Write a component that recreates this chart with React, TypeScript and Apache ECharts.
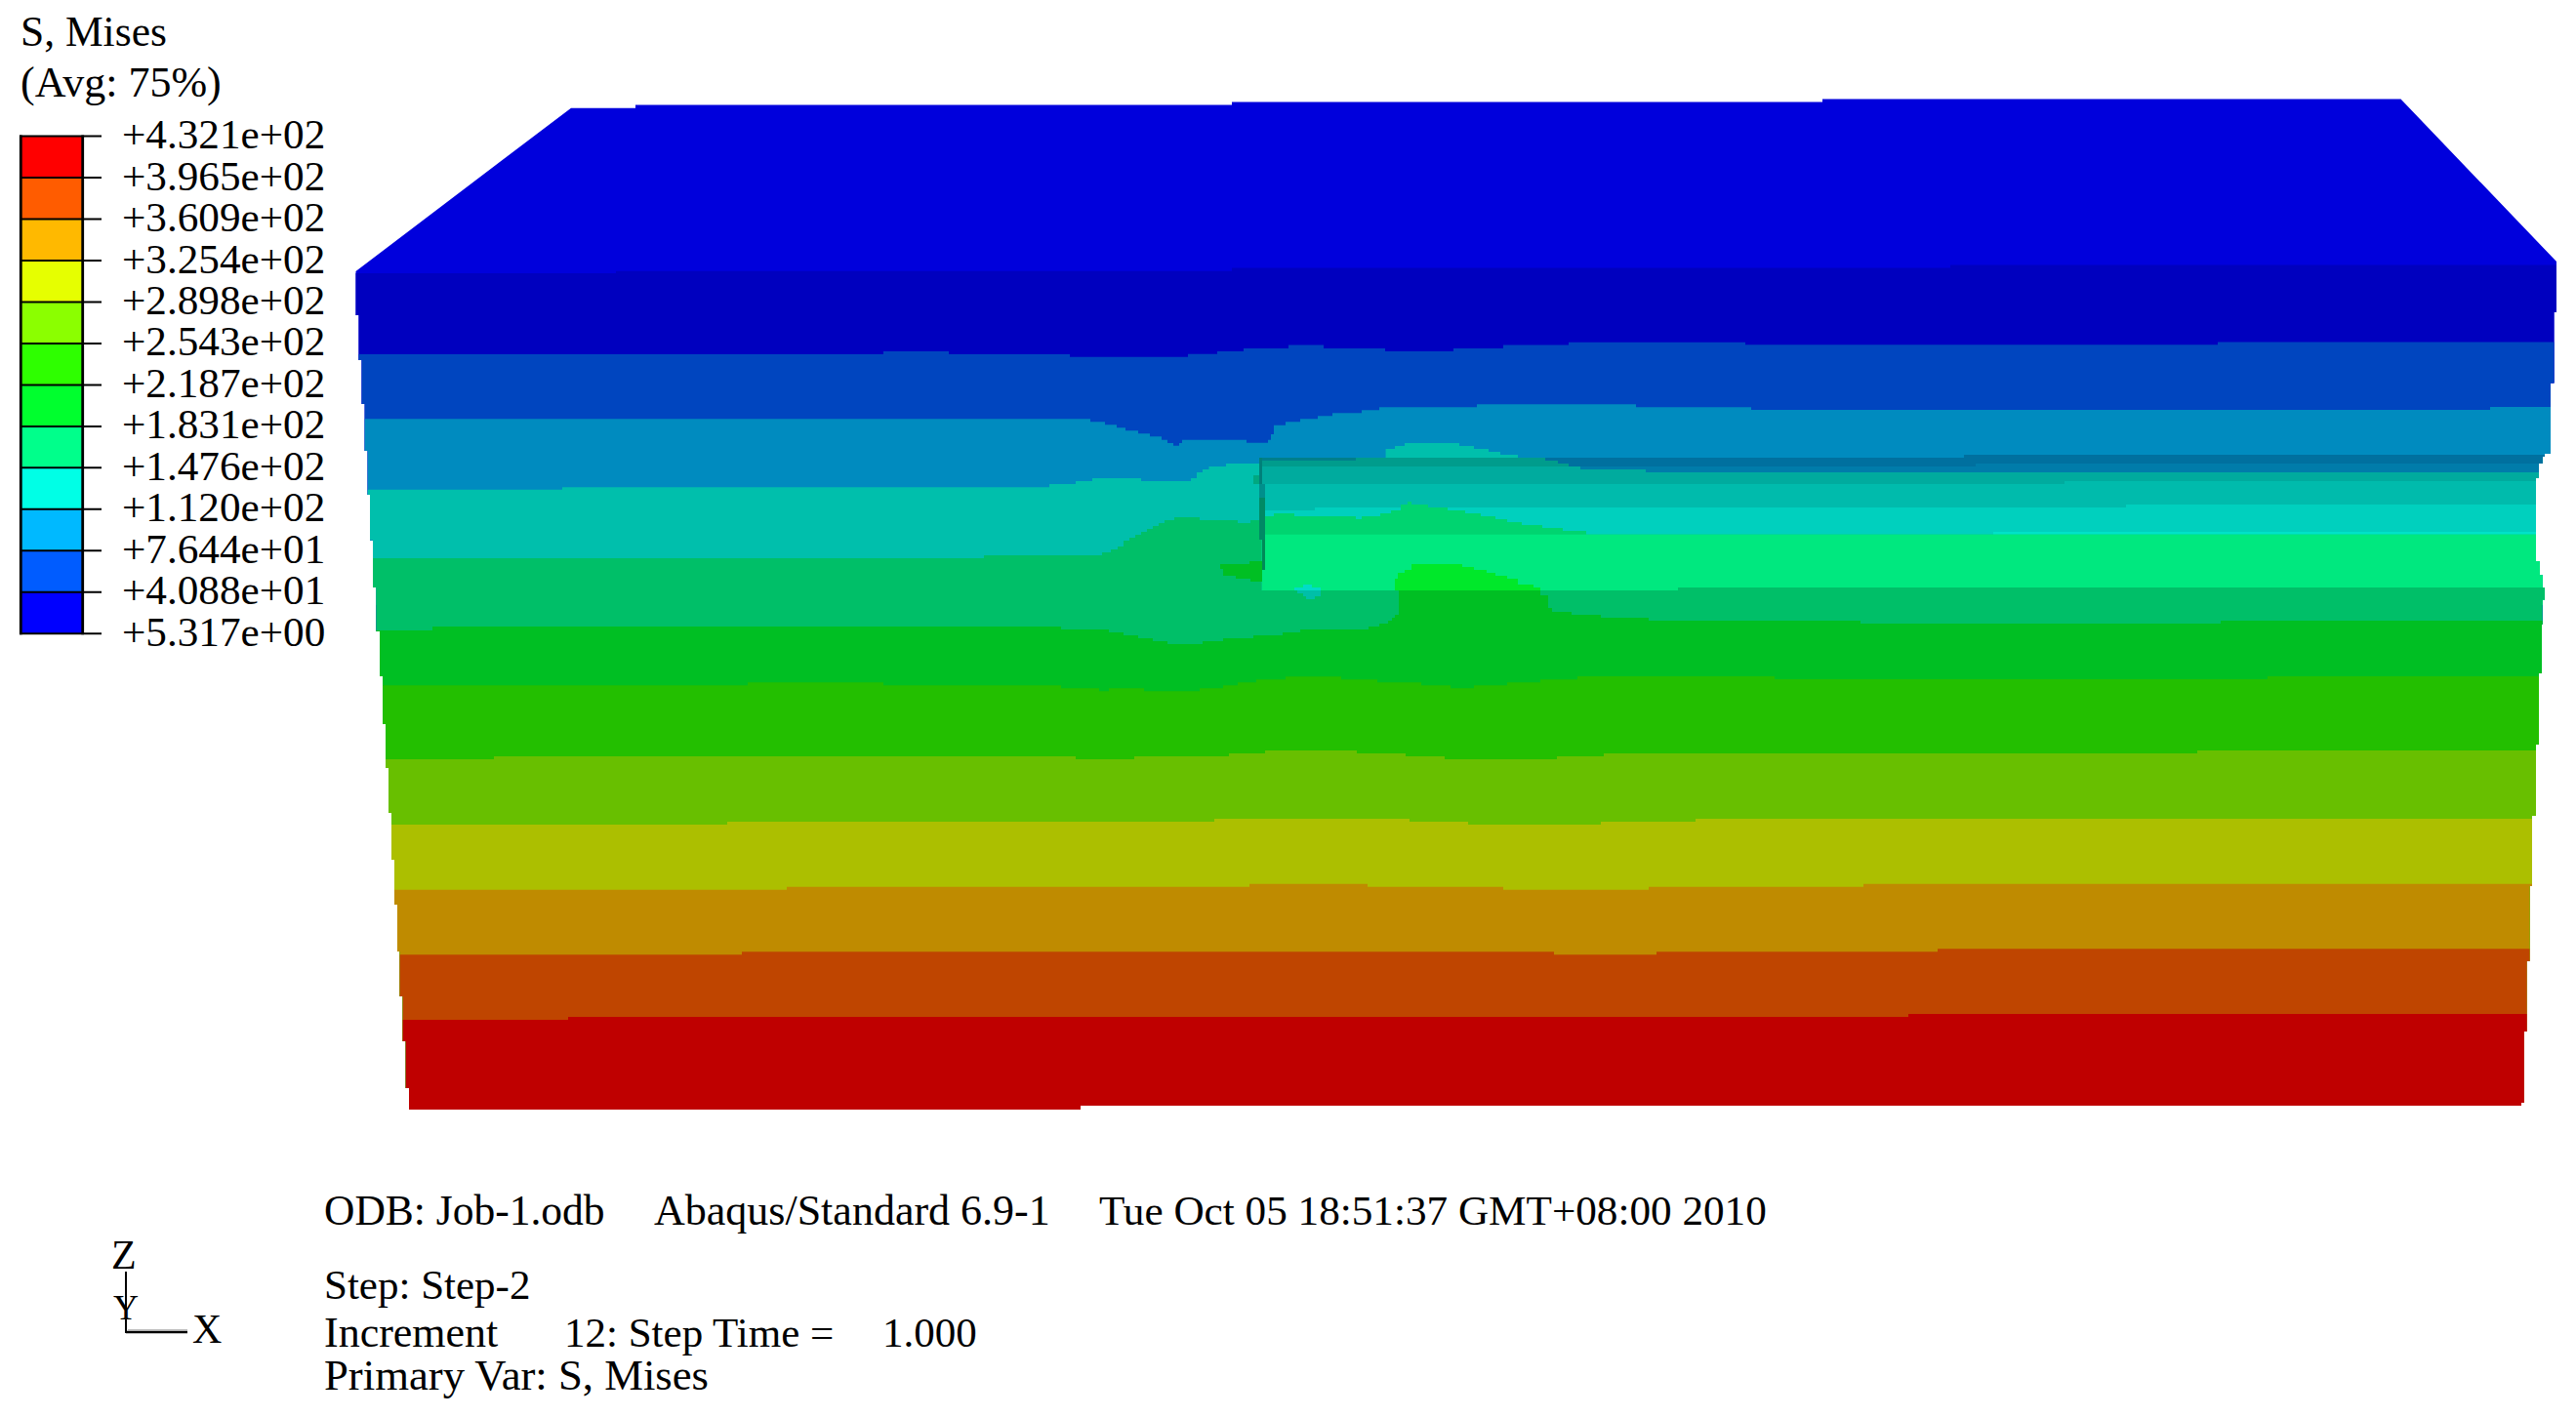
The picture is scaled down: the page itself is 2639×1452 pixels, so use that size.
import React, { useEffect, useRef } from "react";
import * as echarts from "echarts";

type P = [number, number];

const legendTicks = ["+4.321e+02","+3.965e+02","+3.609e+02","+3.254e+02","+2.898e+02","+2.543e+02","+2.187e+02","+1.831e+02","+1.476e+02","+1.120e+02","+7.644e+01","+4.088e+01","+5.317e+00"];
const legendColors = ["#FF0000","#FF5C00","#FFB900","#E6FF00","#8BFF00","#2EFF00","#00FF2E","#00FF8B","#00FFE6","#00B9FF","#005CFF","#0000FF"];

// Model silhouette: each step is [x, y at which that x begins]
const leftEdge: P[] = [[364.5,278],[367.5,323],[370.6,369],[373.7,414],[376.7,462],[379,507],[382,553.5],[385.4,602],[389,647],[392,693],[395,742],[398,787],[401,833],[404,881],[407,927],[409.6,975],[412.7,1021],[415.8,1067],[419,1115]];
const rightEdge: P[] = [[2619,268],[2616.5,320],[2613,392.6],[2607,465],[2604.6,468],[2601,475],[2598,490],[2602,575],[2604.6,589.6],[2607,602],[2604.6,614.5],[2604,640],[2601,690],[2598,763],[2594,836],[2591.5,908],[2588.6,985],[2585.7,1057],[2583,1130]];
const bottomEdge: P[] = [[2583,1133],[1107,1133],[1107,1137],[419,1137]];
const faceTop: P[] = [[364.5,278],[585,110.7],[651,110.7],[651,107.4],[1262,107.4],[1262,104.5],[1867,104.5],[1867,101.6],[2459.5,101.6],[2619,268]];

// Contour boundaries: [x, y held from that x onward]
const contour1: P[] = [[364,280],[631,277.8],[1262,274.5],[1998,271.6]];
const contour2: P[] = [[367,363],[905,360],[972,363],[1096,365.7],[1217,362.7],[1247,360],[1274,357],[1320,353.5],[1356,357],[1419,360],[1489,357],[1540,353.5],[1607,350.7],[1788,353.3],[2272,350.4]];
const contour3: P[] = [[373,429.3],[1117,432.3],[1132,435.3],[1144,438.3],[1153,441.3],[1166,444.3],[1178,447.3],[1190,450.7],[1196,454],[1202,456.7],[1208,454],[1211,450.7],[1277,453.7],[1299,450.7],[1302,445],[1305,435.7],[1317,432.3],[1332,429.3],[1350,426.3],[1365,423.3],[1395,420.3],[1413,417.3],[1513,414.3],[1676,417.3],[1794,420],[2551,417]];
const tealLeftTop: P[] = [[376,501.7],[576,499.2],[1075,496],[1102,493],[1119,490],[1169,493],[1220,490],[1226,484],[1232,481],[1238.5,478],[1256,475]];
const tealBump: P[] = [[1414,469],[1419.6,460],[1429,457],[1439,454],[1495,457],[1510,460],[1525,463],[1537,466],[1555,469]];
const panelSeamTop: P[] = [[1290,469]];
const panelDarkTop: P[] = [[1583,469],[2012,466]];
const panelBlueTop: P[] = [[1607,478],[2024,475]];
const panelTealDarkTop: P[] = [[1292,478],[1607,478],[1619,481],[1686,484]];
const panelTealTop: P[] = [[1292,496],[2115,493]];
const panelCyanTop: P[] = [[1296,523],[1347,520],[2178,517]];
const panelCyanBrightTop: P[] = [[2042,545]];
const panelMidGreenTop: P[] = [[1296,529],[1305,526],[1326,529],[1389,532],[1395,529],[1414,526],[1425,523],[1435,517],[1442,514],[1446,517],[1463,520],[1483,523],[1501,526],[1517,529],[1532,532],[1544,535],[1559,538],[1580,541],[1601,544],[1625,547.7]];
const panelBrightTop: P[] = [[1292.5,547.7]];
const contour5: P[] = [[382,572],[1008,569],[1129,566],[1138,563],[1145,560],[1151,554],[1157,551],[1163,548],[1169,545],[1175,542],[1181,539],[1187,536],[1193,533],[1203,530],[1229,533],[1268,536],[1281,533],[1292.5,605],[1719,602]];
const contour6: P[] = [[385,646],[443,642],[1087,645],[1136,648],[1151,651],[1166,654],[1181,657],[1196,660],[1232,657],[1253,654],[1284,651],[1314,648],[1332,645],[1402,642],[1413,639],[1422,636],[1426,633],[1429,630],[1433,605],[1578,610],[1586,623],[1590,627],[1610,630],[1640,633],[1689,636],[1906,639],[2275,636]];
const contour7: P[] = [[392,702.3],[766,699.3],[905,702.3],[1087,705.3],[1126,708.3],[1136,705.3],[1172,708.3],[1229,705.3],[1253,702.3],[1268,699.3],[1287,696.3],[1317,693.3],[1374,696.3],[1411,699.3],[1456,702.3],[1486,705.3],[1510,702.3],[1544,699.3],[1578,696.3],[1616,693],[1818,696],[2323,693]];
const contour8: P[] = [[395,778],[506,775],[1102,778],[1162,775],[1259,772],[1296,769],[1390,772],[1440,775],[1480,778],[1595,775],[1643,772],[2251,769]];
const contour9: P[] = [[401,845],[745,842],[1244,839],[1444,842],[1504,845],[1640,842],[1737,839]];
const contour10: P[] = [[404,911.7],[806,908.7],[1280,905.7],[1401,908.7],[1540,911.7],[1689,908.7],[1909,905.7]];
const contour11: P[] = [[409,978.3],[760,975.3],[1592,978.3],[1697,975.3],[1985,972.3]];
const contour12: P[] = [[412,1045],[582,1042],[1955,1039]];
const humpTop: P[] = [[1429,593],[1432,587],[1439,584],[1446,578],[1498,581],[1510,584],[1523,587],[1532,590],[1544,593],[1555,599],[1571,602]];

// Small patches around the embedded block
const seamStrip: P[] = [[1290,469],[1389,469],[1389,472],[1290,472]];
const seamWedgeTeal: P[] = [[1583,472],[1596,472],[1596,475],[1607,475],[1607,478],[1583,478]];
const seamUpper: P[] = [[1290,469],[1293,469],[1293,496],[1290,496]];
const seamMid: P[] = [[1290,496],[1296,496],[1296,510],[1290,510]];
const seamLow: P[] = [[1290,510],[1296,510],[1296,553],[1290,553]];
const seamFoot: P[] = [[1293,553],[1296,553],[1296,584],[1293,584]];
const seamNotch: P[] = [[1284,487],[1290,487],[1290,496],[1284,496]];
const darkWedge: P[] = [[1250,578],[1280,578],[1280,575],[1293,575],[1293,596],[1281,596],[1281,593],[1266,593],[1266,590],[1253,590],[1253,583],[1250,583]];
const spotUpper: P[] = [[1335,599],[1344,599],[1344,602],[1353,602],[1353,605],[1326,605],[1326,602],[1335,602]];
const spotLower: P[] = [[1326,605],[1353,605],[1353,611],[1347,611],[1347,614],[1338,614],[1338,611],[1335,611],[1335,608],[1329,608],[1329,605]];

const bandColors = ["#0000DC","#0000BF","#0045BF","#008BBF","#00BFAC","#00BF68","#00BF23","#23BF00","#68BF00","#ACBF00","#BF8B00","#BF4500","#BF0000"];
const panelColors = { seam: "#009C8C", dark: "#00709F", blue: "#007CAA", tealDark: "#00AB9E", teal: "#00BBAC", cyan: "#00D0BE", cyanBright: "#00E2C9", midGreen: "#00D470", bright: "#00E87F", hump: "#00E82A" };

const xAt = (edge: P[], y: number) => {
  let x = edge[0][0];
  for (const s of edge) if (s[1] <= y) x = s[0];
  return x;
};
const slice = (edge: P[], y0: number, y1: number): P[] => {
  const out: P[] = [[xAt(edge, y0), y0]];
  let prev = xAt(edge, y0);
  for (const s of edge) {
    if (s[1] > y0 && s[1] < y1) {
      out.push([prev, s[1]], [s[0], s[1]]);
      prev = s[0];
    }
  }
  out.push([prev, y1]);
  return out;
};
const stairs = (pts: P[]): P[] => {
  const out: P[] = [pts[0]];
  for (let i = 1; i < pts.length; i++) {
    out.push([pts[i][0], pts[i - 1][1]], pts[i]);
  }
  return out;
};

type Opt = { leftX?: number; rightX?: number; bottomY?: number; plain?: boolean };
const band = (top: P[], o: Opt = {}): P[] => {
  const line = o.plain ? top.slice() : stairs(top);
  const y0 = top[0][1];
  const yN = top[top.length - 1][1];
  const right = o.rightX !== undefined ? [[o.rightX, yN]] as P[] : [];
  const left = o.leftX;
  const head = line.slice(1);
  const first: P = [left !== undefined ? left : xAt(leftEdge, y0), y0];
  const pts: P[] = [first, ...head, ...right];
  if (o.rightX !== undefined) {
    pts.push([o.rightX, o.bottomY as number]);
  } else {
    const yb = o.bottomY !== undefined ? o.bottomY : bottomEdge[0][1];
    pts.push(...slice(rightEdge, yN, yb));
  }
  if (o.bottomY !== undefined) {
    if (left !== undefined) pts.push([left, o.bottomY]);
    else pts.push(...slice(leftEdge, y0, o.bottomY).reverse());
  } else {
    pts.push(...bottomEdge.slice(1));
    if (left === undefined) pts.push(...slice(leftEdge, y0, bottomEdge[3][1]).reverse());
  }
  return pts;
};

const layers: { pts: P[]; color: string }[] = [
  { pts: band(faceTop, { plain: true }), color: bandColors[0] },
  { pts: band(contour1), color: bandColors[1] },
  { pts: band(contour2), color: bandColors[2] },
  { pts: band(contour3), color: bandColors[3] },
  { pts: band(tealBump, { leftX: 1414, rightX: 1555, bottomY: 473 }), color: bandColors[4] },
  { pts: band(tealLeftTop, { rightX: 1293, bottomY: 620 }), color: bandColors[4] },
  { pts: band(panelSeamTop, { leftX: 1290, bottomY: 620 }), color: panelColors.seam },
  { pts: seamStrip, color: "#007F8C" },
  { pts: band(panelDarkTop, { leftX: 1583, bottomY: 620 }), color: panelColors.dark },
  { pts: seamWedgeTeal, color: panelColors.seam },
  { pts: band(panelBlueTop, { leftX: 1607, bottomY: 620 }), color: panelColors.blue },
  { pts: band(panelTealDarkTop, { leftX: 1292, bottomY: 620 }), color: panelColors.tealDark },
  { pts: band(panelTealTop, { leftX: 1292, bottomY: 620 }), color: panelColors.teal },
  { pts: band(panelCyanTop, { leftX: 1296, bottomY: 620 }), color: panelColors.cyan },
  { pts: band(panelCyanBrightTop, { leftX: 2042, bottomY: 620 }), color: panelColors.cyanBright },
  { pts: band(panelMidGreenTop, { leftX: 1296, bottomY: 620 }), color: panelColors.midGreen },
  { pts: band(panelBrightTop, { leftX: 1292.5, bottomY: 620 }), color: panelColors.bright },
  { pts: band(contour5), color: bandColors[5] },
  { pts: band(contour6), color: bandColors[6] },
  { pts: band(humpTop, { leftX: 1429, rightX: 1578, bottomY: 605 }), color: panelColors.hump },
  { pts: band(contour7), color: bandColors[7] },
  { pts: band(contour8), color: bandColors[8] },
  { pts: band(contour9), color: bandColors[9] },
  { pts: band(contour10), color: bandColors[10] },
  { pts: band(contour11), color: bandColors[11] },
  { pts: band(contour12), color: bandColors[12] },
  { pts: seamNotch, color: "#00A880" },
  { pts: seamUpper, color: "#00807A" },
  { pts: seamMid, color: "#008F8C" },
  { pts: seamLow, color: "#008A65" },
  { pts: seamFoot, color: "#008A58" },
  { pts: darkWedge, color: bandColors[6] },
  { pts: spotUpper, color: "#00DDC6" },
  { pts: spotLower, color: "#00BFA8" },
];

const FONT = "Liberation Serif";
const LEG_TOP = 139.6;
const LEG_STEP = 42.47;

const txt = (text: string, x: number, y: number, size = 43) => ({
  type: "text" as const,
  x, y, z: 10,
  style: { text, fill: "#000", font: `${size}px "${FONT}"`, textAlign: "left", textVerticalAlign: "bottom" },
});
const hline = (x1: number, x2: number, y: number, w: number, c = "#000") => ({
  type: "line" as const, z: 9, shape: { x1, y1: y, x2, y2: y }, style: { stroke: c, lineWidth: w },
});
const vline = (x: number, y1: number, y2: number, w: number) => ({
  type: "line" as const, z: 9, shape: { x1: x, y1, x2: x, y2 }, style: { stroke: "#000", lineWidth: w },
});

export default function App() {
  const ref = useRef<HTMLDivElement>(null);
  useEffect(() => {
    document.body.style.margin = "0";
    const chart = echarts.init(ref.current!, undefined, { renderer: "svg" });
    const legendBottom = LEG_TOP + LEG_STEP * legendColors.length;
    const graphic: any[] = [
      ...legendColors.map((c, i) => ({
        type: "rect", z: 8,
        shape: { x: 22, y: LEG_TOP + LEG_STEP * i, width: 62, height: LEG_STEP },
        style: { fill: c },
      })),
      vline(21.3, LEG_TOP - 1, legendBottom + 1, 2.8),
      vline(84.7, LEG_TOP - 1, legendBottom + 1, 2.8),
      ...legendTicks.map((_, i) => hline(20, 104, LEG_TOP + LEG_STEP * i, 2)),
      ...legendTicks.map((t, i) => txt(t, 125, LEG_TOP + LEG_STEP * i + 19.5, 43.2)),
      txt("S, Mises", 21, 54, 43.5),
      txt("(Avg: 75%)", 21, 106, 44),
      txt("ODB: Job-1.odb", 332, 1262, 43.5),
      txt("Abaqus/Standard 6.9-1", 670, 1262, 44),
      txt("Tue Oct 05 18:51:37 GMT+08:00 2010", 1126, 1262, 43.2),
      txt("Step: Step-2", 332, 1338),
      txt("Increment", 332, 1387, 44),
      txt("12: Step Time =", 578, 1387, 43),
      txt("1.000", 904, 1387, 43),
      txt("Primary Var: S, Mises", 332, 1431, 44.7),
      txt("Z", 114, 1307, 42),
      txt("Y", 116, 1358, 36),
      txt("X", 197, 1383, 42),
      vline(129, 1303, 1366, 2),
      hline(129, 192, 1365, 2.5),
      hline(131, 192, 1363, 1.5, "#AAAAAA"),
    ];
    chart.setOption({
      animation: false,
      backgroundColor: "#FFFFFF",
      grid: { left: 0, right: 0, top: 0, bottom: 0 },
      xAxis: { type: "value", min: 0, max: 2639, show: false },
      yAxis: { type: "value", min: 0, max: 1452, inverse: true, show: false },
      graphic,
      series: [
        {
          type: "custom",
          silent: true,
          clip: false,
          coordinateSystem: "cartesian2d",
          data: layers.map((l, i) => [l.pts[0][0], l.pts[0][1], i]),
          renderItem: (params: any, api: any) => {
            const l = layers[params.dataIndex];
            return {
              type: "polygon",
              shape: { points: l.pts.map((p) => api.coord(p)) },
              style: { fill: l.color },
            };
          },
        },
      ],
    });
    return () => chart.dispose();
  }, []);
  return <div ref={ref} style={{ position: "absolute", left: 0, top: 0, width: 2639, height: 1452 }} />;
}
